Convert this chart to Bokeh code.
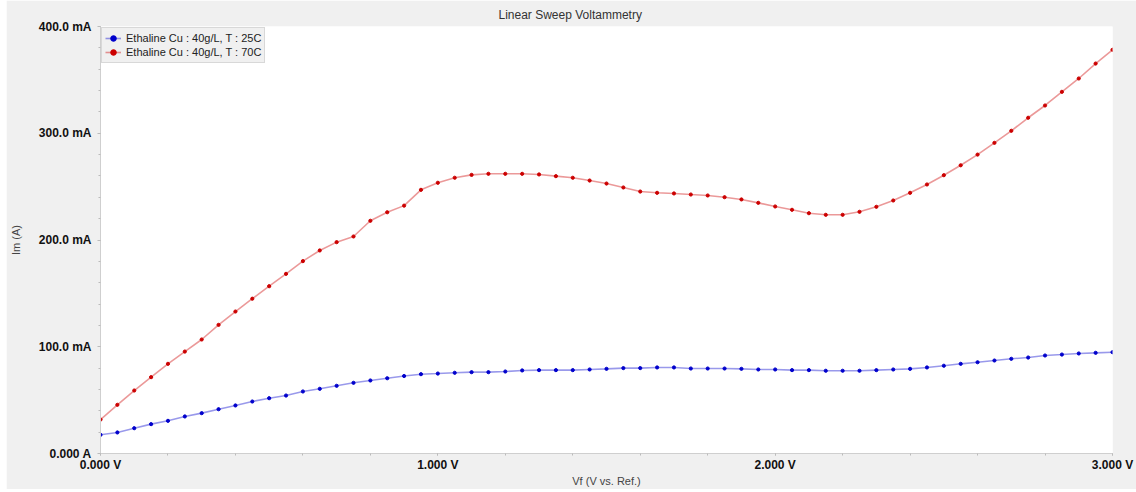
from bokeh.plotting import figure
from bokeh.models import Range1d, CustomJSTickFormatter, FixedTicker, Legend, LegendItem
from bokeh.embed import file_html
from bokeh.resources import INLINE

# Data (potential in V, current in mA)
volts = [round(i * 0.05, 2) for i in range(61)]
im_25c = [17.5, 19.7, 23.7, 27.5, 30.6, 34.7, 37.8, 41.5, 45.0, 48.7,
          51.8, 54.3, 58.1, 60.6, 63.4, 66.2, 68.4, 70.5, 72.6, 74.3,
          74.9, 75.6, 76.2, 76.2, 76.8, 77.8, 78.1, 78.1, 78.1, 78.7,
          79.3, 80.0, 80.0, 80.6, 80.6, 79.6, 79.6, 79.6, 79.3, 78.7,
          78.7, 78.1, 78.1, 77.5, 77.5, 77.5, 78.1, 78.7, 79.3, 80.6,
          82.2, 84.0, 85.5, 87.1, 88.7, 89.9, 91.8, 92.7, 93.7, 94.3, 94.9]
im_70c = [31.8, 45.6, 59.0, 71.5, 84.0, 95.5, 106.8, 120.5, 133.0, 145.0,
          156.7, 168.3, 180.2, 190.2, 198.0, 203.3, 218.0, 226.0, 232.2, 247.0,
          253.6, 258.3, 261.0, 262.0, 262.0, 262.0, 261.4, 259.8, 258.3, 255.7,
          252.9, 249.2, 245.4, 244.2, 243.6, 242.6, 241.7, 240.1, 238.0, 234.8,
          231.4, 228.3, 225.1, 223.6, 223.6, 226.4, 231.1, 237.0, 244.2, 252.0,
          260.7, 270.0, 280.0, 291.0, 302.3, 314.5, 326.0, 338.8, 351.3, 365.3, 378.2]
series_names = ["Ethaline Cu : 40g/L, T : 25C", "Ethaline Cu : 40g/L, T : 70C"]
x_ticks = [0, 1, 2, 3]
y_ticks = [0, 100, 200, 300, 400]

FONT = "Liberation Sans"

p = figure(width=1130, height=489, output_backend="svg", toolbar_location=None,
           x_range=Range1d(0, 3), y_range=Range1d(0, 400),
           min_border_left=93, min_border_right=24, min_border_top=26, min_border_bottom=36,
           background_fill_color="white", border_fill_color="#f0f0f0",
           outline_line_color=None, margin=(0, 0, 3, 6))

p.title.text = "Linear Sweep Voltammetry"
p.title.align = "left"
p.title.offset = 398
p.title.text_font = FONT
p.title.text_font_size = "12px"
p.title.text_font_style = "normal"
p.title.text_color = "#333333"

p.grid.visible = False

# axes
p.xaxis.ticker = FixedTicker(ticks=x_ticks, minor_ticks=[i * 0.2 for i in range(16)])
p.yaxis.ticker = FixedTicker(ticks=y_ticks, minor_ticks=[i * 20 for i in range(21)])
p.xaxis.formatter = CustomJSTickFormatter(code="return tick.toFixed(3) + ' V';")
p.yaxis.formatter = CustomJSTickFormatter(code="return tick == 0 ? '0.000 A' : tick.toFixed(1) + ' mA';")
p.xaxis.axis_label = "Vf (V vs. Ref.)"
p.yaxis.axis_label = "Im (A)"
for ax in (p.xaxis, p.yaxis):
    ax.axis_line_color = "#cfcfcf"
    ax.major_tick_line_color = "#bbbbbb"
    ax.minor_tick_line_color = "#bbbbbb"
    ax.major_tick_out = 3
    ax.major_tick_in = 0
    ax.minor_tick_out = 2
    ax.minor_tick_in = 0
    ax.major_label_text_font = FONT
    ax.major_label_text_font_style = "bold"
    ax.major_label_text_font_size = "12px"
    ax.major_label_text_color = "#111111"
    ax.axis_label_text_font = FONT
    ax.axis_label_text_font_style = "normal"
    ax.axis_label_text_font_size = "11px"
    ax.axis_label_text_color = "#444444"
p.yaxis.major_label_standoff = 6
p.yaxis.axis_label_standoff = 14
p.xaxis.major_label_standoff = 2
p.xaxis.axis_label_standoff = 0
p.xaxis.major_tick_out = 2

l1 = p.line(volts, im_25c, line_color="#0000cc", line_alpha=0.4, line_width=1.6)
s1 = p.scatter(volts, im_25c, marker="circle", size=3.2, fill_color="#0000cc", line_color="#0000cc")
l2 = p.line(volts, im_70c, line_color="#cc0000", line_alpha=0.4, line_width=1.6)
s2 = p.scatter(volts, im_70c, marker="circle", size=3.2, fill_color="#cc0000", line_color="#cc0000")

legend = Legend(items=[LegendItem(label=series_names[0], renderers=[l1, s1]),
                       LegendItem(label=series_names[1], renderers=[l2, s2])],
                location="top_left", margin=1, padding=3, spacing=0,
                label_height=14, glyph_height=14, glyph_width=16, label_standoff=5,
                label_text_font=FONT, label_text_font_size="11px", label_text_color="#222222",
                background_fill_color="#f0f0f0", background_fill_alpha=1,
                border_line_color="#c0c0c0")
p.add_layout(legend)

open("out.html", "w").write(file_html(p, INLINE))
